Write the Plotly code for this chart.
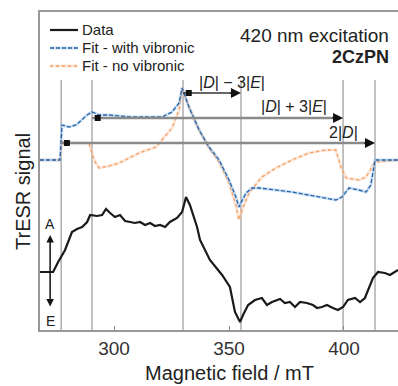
import plotly.graph_objects as go

# ---------------- data ----------------
field_data = [267.8, 273.5, 275.7, 278.7, 281.7, 283.9, 286.1, 288.3, 289.6, 292.6, 294.8, 296.5,
              298.3, 300.4, 302.6, 304.8, 307.0, 309.1, 311.3, 313.5, 315.7, 317.8, 320.0, 322.2,
              324.3, 327.4, 329.6, 331.3, 333.0, 336.1, 337.4, 341.7, 347.0, 350.4, 352.6, 354.8,
              356.1, 358.3, 361.3, 364.3, 366.5, 368.7, 372.2, 374.3, 376.5, 378.7, 380.9, 383.9,
              386.5, 388.3, 390.4, 392.6, 395.2, 397.4, 399.6, 401.7, 404.8, 407.0, 409.1, 410.4,
              412.6, 414.8, 417.8, 420.0, 423.5]
signal_data = [0.00, 0.00, 0.10, 0.22, 0.40, 0.43, 0.45, 0.50, 0.57, 0.56, 0.57, 0.63,
               0.59, 0.55, 0.57, 0.51, 0.50, 0.49, 0.50, 0.47, 0.49, 0.46, 0.47, 0.45,
               0.50, 0.54, 0.60, 0.75, 0.67, 0.45, 0.32, 0.12, -0.03, -0.15, -0.40, -0.50,
               -0.43, -0.33, -0.28, -0.26, -0.33, -0.30, -0.27, -0.31, -0.30, -0.35, -0.30, -0.31,
               -0.33, -0.36, -0.35, -0.33, -0.36, -0.38, -0.35, -0.28, -0.26, -0.30, -0.26, -0.18,
               -0.06, 0.00, -0.01, -0.03, 0.02]

field_vib = [267.8, 276.5, 277.4, 280.4, 283.5, 286.1, 288.3, 290.4, 293.5, 297.8, 307.8, 320.9,
             325.2, 328.3, 329.6, 332.6, 337.0, 341.3, 345.7, 350.0, 353.0, 354.3, 357.4, 360.0,
             363.0, 377.4, 396.5, 399.1, 402.2, 406.5, 409.6, 411.7, 413.0, 413.5, 423.5]
signal_vib = [0.00, 0.00, 0.35, 0.33, 0.35, 0.40, 0.45, 0.48, 0.45, 0.45, 0.43, 0.43,
              0.48, 0.57, 0.72, 0.53, 0.30, 0.13, 0.00, -0.20, -0.37, -0.47, -0.33, -0.28,
              -0.28, -0.32, -0.40, -0.37, -0.28, -0.30, -0.32, -0.25, -0.03, 0.00, 0.00]

field_novib = [267.8, 276.5, 277.4, 282.6, 289.1, 291.3, 293.5, 297.8, 302.2, 310.9, 318.3, 320.9,
               325.2, 328.3, 329.6, 332.6, 337.0, 341.3, 345.7, 350.0, 353.0, 354.3, 355.7, 358.7,
               364.3, 370.4, 377.4, 384.8, 392.2, 396.5, 398.7, 400.9, 406.5, 409.6, 412.2, 413.5, 423.5]
signal_novib = [0.00, 0.00, 0.18, 0.17, 0.17, 0.00, -0.08, -0.06, -0.03, 0.07, 0.13, 0.20,
                0.32, 0.50, 0.72, 0.53, 0.30, 0.12, -0.02, -0.23, -0.45, -0.60, -0.50, -0.33,
                -0.17, -0.08, 0.00, 0.07, 0.10, 0.10, -0.07, -0.18, -0.20, -0.17, -0.07, -0.02, 0.00]

canonical_fields = [277.0, 290.4, 330.0, 355.2, 399.6, 413.5]
splitting_labels = ["|<i>D</i>| − 3|<i>E</i>|", "|<i>D</i>| + 3|<i>E</i>|", "2|<i>D</i>|"]
splitting_start = [330.0, 290.4, 277.0]
splitting_end = [355.2, 399.6, 413.5]
x_ticks = [300, 350, 400]

DATA_OFFSET = -1.12
FONT = "Liberation Sans, Arial, sans-serif"

fig = go.Figure()

# vertical canonical-orientation lines
for f in canonical_fields:
    fig.add_trace(go.Scatter(x=[f, f], y=[0.80, -1.70], mode="lines",
                             line=dict(color="#9a9a9a", width=1.2), showlegend=False, hoverinfo="skip"))

# fits
fig.add_trace(go.Scatter(x=field_novib, y=signal_novib, mode="lines",
                         line=dict(color="rgba(250,200,170,0.45)", width=3), showlegend=False))
fig.add_trace(go.Scatter(x=field_novib, y=signal_novib, mode="lines",
                         line=dict(color="#f4a060", width=1.3, dash="dot"), showlegend=False))
fig.add_trace(go.Scatter(x=field_vib, y=signal_vib, mode="lines",
                         line=dict(color="rgba(150,195,235,0.5)", width=3), showlegend=False))
fig.add_trace(go.Scatter(x=field_vib, y=signal_vib, mode="lines",
                         line=dict(color="#2b62a6", width=1.3, dash="4px,2px"), showlegend=False))

# data
fig.add_trace(go.Scatter(x=field_data, y=[v + DATA_OFFSET for v in signal_data], mode="lines",
                         line=dict(color="#1a1a1a", width=2.2), showlegend=False))

# splitting arrows
arrow_y = [0.67, 0.42, 0.17]
label_y = [0.78, 0.54, 0.28]
label_x = [351.3, 378.3, 399.6]
for i in range(3):
    col = "#333333" if i == 0 else "#8a8a8a"
    fig.add_trace(go.Scatter(x=[splitting_start[i], splitting_end[i] - 2], y=[arrow_y[i]] * 2, mode="lines",
                             line=dict(color=col, width=1.5 if i == 0 else 2.5), showlegend=False))
    fig.add_trace(go.Scatter(x=[splitting_start[i] + 2.5], y=[arrow_y[i]], mode="markers",
                             marker=dict(color="#111", size=6, symbol="square"), showlegend=False))
    fig.add_annotation(x=splitting_end[i], y=arrow_y[i], ax=-12, ay=0, axref="pixel", ayref="pixel",
                       showarrow=True, arrowhead=2, arrowsize=1, arrowwidth=2, arrowcolor="#111", text="")
    fig.add_annotation(x=label_x[i], y=label_y[i], text=splitting_labels[i], showarrow=False,
                       font=dict(family=FONT, size=16, color="#222"))

# A / E arrow
fig.add_annotation(x=272.2, y=-0.75, ax=272.2, ay=-1.48, axref="x", ayref="y", showarrow=True,
                   arrowhead=2, arrowside="end+start", arrowsize=1, arrowwidth=1.5, arrowcolor="#111", text="")
fig.add_annotation(x=272.2, y=-0.64, text="A", showarrow=False, font=dict(family=FONT, size=14, color="#222"))
fig.add_annotation(x=272.2, y=-1.61, text="E", showarrow=False, font=dict(family=FONT, size=14, color="#222"))

# legend (manual)
W, H, L, B = 398, 386, 40, 56
PW, PH = W - L, H - 12 - B
def px(x): return (x - L) / PW
def py(y): return (330 - y) / PH
legend_items = [("Data", dict(color="#1a1a1a", width=2.2)),
                ("Fit - with vibronic", dict(color="#2b62a6", width=1.5, dash="4px,2px")),
                ("Fit - no vibronic", dict(color="#f4a060", width=1.5, dash="dot"))]
leg_y = [30, 48, 66]
for (name, ln), yy in zip(legend_items, leg_y):
    if "with" in name:
        fig.add_shape(type="line", xref="paper", yref="paper", x0=px(50), x1=px(78), y0=py(yy), y1=py(yy),
                      line=dict(color="rgba(150,195,235,0.5)", width=3))
    if "no vib" in name:
        fig.add_shape(type="line", xref="paper", yref="paper", x0=px(50), x1=px(78), y0=py(yy), y1=py(yy),
                      line=dict(color="rgba(250,200,170,0.45)", width=3))
    fig.add_shape(type="line", xref="paper", yref="paper", x0=px(50), x1=px(78), y0=py(yy), y1=py(yy), line=ln)
    fig.add_annotation(xref="paper", yref="paper", x=px(80), y=py(yy), xanchor="left", yanchor="middle",
                       text=name, showarrow=False, font=dict(family=FONT, size=15, color="#222"))

fig.add_annotation(xref="paper", yref="paper", x=px(391), y=py(35), xanchor="right", yanchor="middle",
                   text="420 nm excitation", showarrow=False, font=dict(family=FONT, size=19, color="#222"))
fig.add_annotation(xref="paper", yref="paper", x=px(391), y=py(57), xanchor="right", yanchor="middle",
                   text="<b>2CzPN</b>", showarrow=False, font=dict(family=FONT, size=18, color="#222"))

# axis titles
fig.add_annotation(xref="paper", yref="paper", x=px(229), y=py(373), xanchor="center", yanchor="middle",
                   text="Magnetic field / mT", showarrow=False, font=dict(family=FONT, size=20, color="#222"))
fig.add_annotation(xref="paper", yref="paper", x=px(23), y=py(192), xanchor="center", yanchor="middle",
                   text="TrESR signal", textangle=-90, showarrow=False, font=dict(family=FONT, size=20, color="#222"))

fig.update_layout(
    width=W, height=H, margin=dict(l=L, r=0, t=12, b=B),
    paper_bgcolor="white", plot_bgcolor="white", showlegend=False,
    xaxis=dict(range=[267.8, 423.5], tickvals=x_ticks, ticks="inside", ticklen=4, tickcolor="#888",
               showline=True, linecolor="#999", linewidth=1.5, mirror=True, showgrid=False, zeroline=False,
               tickfont=dict(family=FONT, size=19, color="#333")),
    yaxis=dict(range=[-1.70, 1.48], showticklabels=False, ticks="", showline=True, linecolor="#999",
               linewidth=1.5, showgrid=False, zeroline=False),
)

fig.write_html("out.html", config={"displayModeBar": False},
               post_script="document.body.style.margin='0px';document.body.style.padding='0px';")
